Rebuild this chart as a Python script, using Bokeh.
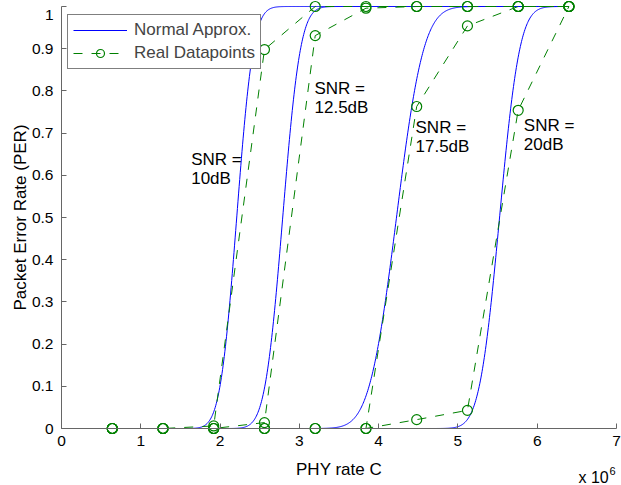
import math

import numpy as np
from bokeh.embed import file_html
from bokeh.models import (CustomJSTickFormatter, FixedTicker, Label, Legend,
                          LegendItem, Range1d)
from bokeh.plotting import figure
from bokeh.resources import INLINE

# ---- data (PHY rate in units of 1e6 bit/s) ----
phy_rate = [0.64, 1.28, 1.92, 2.56, 3.20, 3.84, 4.48, 5.12, 5.76, 6.40]
per_10dB = [0.0, 0.0, 0.006, 0.898, 1.0, 1.0, 1.0, 1.0, 1.0, 1.0]
per_12_5dB = [0.0, 0.0, 0.0, 0.014, 0.931, 0.996, 1.0, 1.0, 1.0, 1.0]
per_17_5dB = [0.0, 0.0, 0.0, 0.0, 0.0, 0.0, 0.763, 0.954, 1.0, 1.0]
per_20dB = [0.0, 0.0, 0.0, 0.0, 0.0, 0.0, 0.021, 0.043, 0.754, 1.0]

snr_names = ["10dB", "12.5dB", "17.5dB", "20dB"]
# fitted normal approximation (mean / std of the PER transition, 1e6 bit/s)
norm_mean = [2.21, 2.79, 4.225, 5.525]
norm_std = [0.165, 0.176, 0.27, 0.20]

x_ticks = [0, 1, 2, 3, 4, 5, 6, 7]
y_ticks = [0, 0.1, 0.2, 0.3, 0.4, 0.5, 0.6, 0.7, 0.8, 0.9, 1]

# text anchor positions for the SNR annotations (x, first baseline, second baseline)
snr_label_pos = [(1.636, 0.637, 0.592), (3.191, 0.805, 0.761),
                 (4.465, 0.714, 0.669), (5.831, 0.718, 0.673)]

# ---- layout (pixels) ----
# The plotting frame fills the whole canvas so markers sitting on PER = 0 / 1
# are not clipped; the axes are pinned to the data origin instead.
W, H = 621, 485
AX_X0, AX_X1 = 61, 616             # pixel columns of x = 0 and x = 7
AX_Y1, AX_Y0 = 6, 428              # pixel rows of PER = 1 and PER = 0
px_per_x = (AX_X1 - AX_X0) / 7.0
px_per_y = (AX_Y0 - AX_Y1) / 1.0

x_range = Range1d(-AX_X0 / px_per_x, 7 + (W - AX_X1) / px_per_x)
y_range = Range1d(-(H - AX_Y0) / px_per_y, 1 + AX_Y1 / px_per_y)

FONT = "Liberation Sans"
BLUE = "#0000ff"
GREEN = "#008000"
AXIS_GRAY = "#666666"

p = figure(width=W, height=H, x_range=x_range, y_range=y_range,
           min_border=0, min_border_left=0, min_border_right=0,
           min_border_top=0, min_border_bottom=0, output_backend="svg",
           toolbar_location=None, background_fill_color="white",
           border_fill_color="white")
p.outline_line_color = None
p.xgrid.visible = False
p.ygrid.visible = False

# axes drawn through the origin, limited to the data box
for ax, ticks, bounds in ((p.xaxis[0], x_ticks, (0, 7)), (p.yaxis[0], y_ticks, (0, 1))):
    ax.fixed_location = 0
    ax.bounds = bounds
    ax.ticker = FixedTicker(ticks=ticks)
    ax.axis_line_color = AXIS_GRAY
    ax.major_tick_line_color = AXIS_GRAY
    ax.major_tick_in = 5
    ax.major_tick_out = 0
    ax.minor_tick_line_color = None
    ax.major_label_text_font = FONT
    ax.major_label_text_font_size = "15.5px"
    ax.major_label_text_color = "black"
p.xaxis.major_label_standoff = 7
p.yaxis.major_label_standoff = 8
# the top label ("1") sits against the canvas edge, so it is drawn separately below
p.yaxis.formatter = CustomJSTickFormatter(code="return tick >= 1 ? '' : String(tick)")
p.add_layout(Label(x=-8 / px_per_x, y=1 - 8.5 / px_per_y, text=str(y_ticks[-1]),
                   text_align="right", text_baseline="alphabetic",
                   text_font=FONT, text_font_size="15.5px", text_color="black"))

# normal-approximation curves
xs = np.linspace(phy_rate[0], phy_rate[-1], 800)
blue_renderers = []
for mu, sd in zip(norm_mean, norm_std):
    ys = [0.5 * (1 + math.erf((x - mu) / (sd * math.sqrt(2)))) for x in xs]
    blue_renderers.append(p.line(xs, ys, line_color=BLUE, line_width=1))

# measured points
green_line = green_pts = None
for per in (per_10dB, per_12_5dB, per_17_5dB, per_20dB):
    ln = p.line(phy_rate, per, line_color=GREEN, line_width=1, line_dash="9 9")
    pt = p.scatter(phy_rate, per, marker="circle", size=10, fill_color=None,
                   line_color=GREEN, line_width=1.2)
    if green_line is None:
        green_line, green_pts = ln, pt

legend = Legend(items=[LegendItem(label="Normal Approx.", renderers=[blue_renderers[0]]),
                       LegendItem(label="Real Datapoints", renderers=[green_line, green_pts])],
                location=(67, H - 16 - 53))
legend.label_text_font = FONT
legend.label_text_font_size = "17px"
legend.label_standoff = 7
legend.glyph_width = 54
legend.glyph_height = 20
legend.label_height = 20
legend.spacing = 3
legend.padding = 5
legend.margin = 0
legend.border_line_color = "black"
legend.border_line_width = 1
legend.background_fill_alpha = 1
p.add_layout(legend)

TXT = dict(text_font=FONT, text_font_size="17px", text_color="black")

for name, (lx, b1, b2) in zip(snr_names, snr_label_pos):
    p.add_layout(Label(x=lx, y=b1, text="SNR =", text_align="left",
                       text_baseline="alphabetic", **TXT))
    p.add_layout(Label(x=lx, y=b2, text=name, text_align="left",
                       text_baseline="alphabetic", **TXT))

# axis titles and exponent
p.add_layout(Label(x=3.5, y=(AX_Y0 - 469) / px_per_y, text="PHY rate C",
                   text_align="center", text_baseline="alphabetic", **TXT))
p.add_layout(Label(x=(20 - AX_X0) / px_per_x, y=0.5, text="Packet Error Rate (PER)",
                   angle=math.pi / 2, text_align="center",
                   text_baseline="alphabetic", **TXT))
p.add_layout(Label(x=(578 - AX_X0) / px_per_x, y=(AX_Y0 - 477) / px_per_y,
                   text="x 10", text_align="left", text_baseline="alphabetic",
                   text_font=FONT, text_font_size="16px", text_color="black"))
p.add_layout(Label(x=(609 - AX_X0) / px_per_x, y=(AX_Y0 - 470) / px_per_y,
                   text="6", text_align="left", text_baseline="alphabetic",
                   text_font=FONT, text_font_size="11px", text_color="black"))

open("out.html", "w").write(file_html(p, INLINE))
